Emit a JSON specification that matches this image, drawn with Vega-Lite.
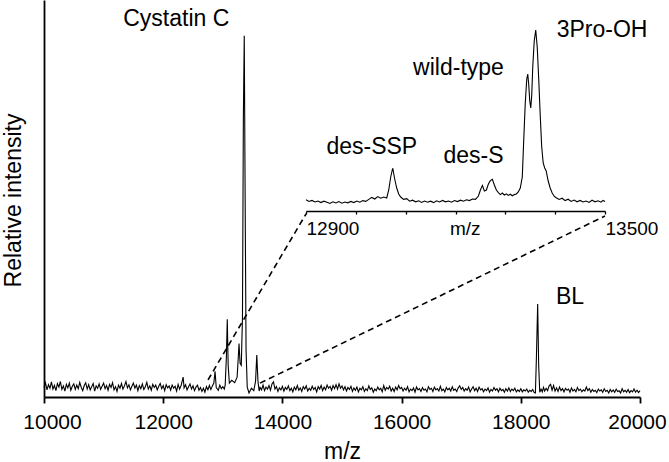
{
  "$schema": "https://vega.github.io/schema/vega-lite/v6.json",
  "width": 596,
  "height": 397,
  "autosize": "none",
  "padding": {"left": 44, "top": 0, "right": 29, "bottom": 65},
  "config": {"view": {"stroke": null}, "font": "Liberation Sans", "text": {"font": "Liberation Sans"}},
  "datasets": {
    "main": [
      {"mz":10000,"intensity":2.4},{"mz":10025,"intensity":3.6},{"mz":10050,"intensity":1.8},{"mz":10075,"intensity":3.1},{"mz":10100,"intensity":2.2},{"mz":10125,"intensity":3.8},{"mz":10150,"intensity":2.0},{"mz":10175,"intensity":2.9},{"mz":10200,"intensity":1.6},{"mz":10225,"intensity":3.4},{"mz":10250,"intensity":2.5},{"mz":10275,"intensity":3.9},{"mz":10300,"intensity":1.9},{"mz":10325,"intensity":2.8},{"mz":10350,"intensity":1.5},{"mz":10375,"intensity":3.2},{"mz":10400,"intensity":2.3},{"mz":10425,"intensity":3.5},{"mz":10450,"intensity":1.7},{"mz":10475,"intensity":2.7},
      {"mz":10500,"intensity":3.3},{"mz":10525,"intensity":1.9},{"mz":10550,"intensity":3.0},{"mz":10575,"intensity":2.1},{"mz":10600,"intensity":3.7},{"mz":10625,"intensity":2.4},{"mz":10650,"intensity":1.6},{"mz":10675,"intensity":2.9},{"mz":10700,"intensity":3.6},{"mz":10725,"intensity":2.0},{"mz":10750,"intensity":3.1},{"mz":10775,"intensity":1.8},{"mz":10800,"intensity":2.6},{"mz":10825,"intensity":3.4},{"mz":10850,"intensity":1.5},{"mz":10875,"intensity":2.8},{"mz":10900,"intensity":2.2},{"mz":10925,"intensity":3.3},{"mz":10950,"intensity":1.9},{"mz":10975,"intensity":2.7},
      {"mz":11000,"intensity":3.5},{"mz":11025,"intensity":2.1},{"mz":11050,"intensity":2.9},{"mz":11075,"intensity":1.7},{"mz":11100,"intensity":3.2},{"mz":11125,"intensity":2.4},{"mz":11150,"intensity":3.6},{"mz":11175,"intensity":1.8},{"mz":11200,"intensity":2.6},{"mz":11225,"intensity":1.4},{"mz":11250,"intensity":3.0},{"mz":11275,"intensity":2.2},{"mz":11300,"intensity":3.4},{"mz":11325,"intensity":2.0},{"mz":11350,"intensity":2.8},{"mz":11375,"intensity":3.9},{"mz":11400,"intensity":2.3},{"mz":11425,"intensity":3.1},{"mz":11450,"intensity":1.8},{"mz":11475,"intensity":2.7},
      {"mz":11500,"intensity":3.5},{"mz":11525,"intensity":2.2},{"mz":11550,"intensity":3.0},{"mz":11575,"intensity":1.6},{"mz":11600,"intensity":2.9},{"mz":11625,"intensity":2.1},{"mz":11650,"intensity":3.3},{"mz":11675,"intensity":1.9},{"mz":11700,"intensity":2.6},{"mz":11725,"intensity":3.7},{"mz":11750,"intensity":2.0},{"mz":11775,"intensity":2.8},{"mz":11800,"intensity":1.7},{"mz":11825,"intensity":3.2},{"mz":11850,"intensity":2.4},{"mz":11875,"intensity":3.0},{"mz":11900,"intensity":1.8},{"mz":11925,"intensity":2.7},{"mz":11950,"intensity":3.4},{"mz":11975,"intensity":2.1},
      {"mz":12000,"intensity":2.9},{"mz":12025,"intensity":1.6},{"mz":12050,"intensity":3.1},{"mz":12075,"intensity":2.3},{"mz":12100,"intensity":2.8},{"mz":12125,"intensity":1.7},{"mz":12150,"intensity":3.0},{"mz":12175,"intensity":2.2},{"mz":12200,"intensity":2.7},{"mz":12225,"intensity":1.5},{"mz":12250,"intensity":3.2},{"mz":12275,"intensity":2.0},{"mz":12300,"intensity":2.9},{"mz":12325,"intensity":4.4},{"mz":12335,"intensity":5.0},{"mz":12350,"intensity":2.3},{"mz":12375,"intensity":3.1},{"mz":12400,"intensity":1.8},{"mz":12425,"intensity":2.6},{"mz":12450,"intensity":3.3},
      {"mz":12475,"intensity":2.0},{"mz":12500,"intensity":2.8},{"mz":12525,"intensity":1.6},{"mz":12550,"intensity":2.5},{"mz":12575,"intensity":3.0},{"mz":12600,"intensity":1.7},{"mz":12625,"intensity":2.4},{"mz":12650,"intensity":1.4},{"mz":12675,"intensity":2.2},{"mz":12700,"intensity":1.2},{"mz":12725,"intensity":2.6},{"mz":12750,"intensity":1.8},{"mz":12775,"intensity":2.9},{"mz":12800,"intensity":1.9},{"mz":12825,"intensity":2.8},{"mz":12850,"intensity":3.5},{"mz":12870,"intensity":6.5},{"mz":12890,"intensity":2.4},{"mz":12925,"intensity":1.7},{"mz":12950,"intensity":3.0},
      {"mz":12975,"intensity":2.1},{"mz":13000,"intensity":2.6},{"mz":13025,"intensity":2.0},{"mz":13040,"intensity":3.0},{"mz":13060,"intensity":10},{"mz":13075,"intensity":19.6},{"mz":13090,"intensity":8},{"mz":13110,"intensity":3.5},{"mz":13150,"intensity":4.2},{"mz":13200,"intensity":3.6},{"mz":13240,"intensity":5.0},{"mz":13260,"intensity":10},{"mz":13272,"intensity":13.5},{"mz":13290,"intensity":8.5},{"mz":13310,"intensity":8.0},{"mz":13330,"intensity":20},{"mz":13345,"intensity":70},{"mz":13360,"intensity":91},{"mz":13375,"intensity":50},{"mz":13390,"intensity":12},
      {"mz":13410,"intensity":2.5},{"mz":13440,"intensity":1.0},{"mz":13480,"intensity":2.2},{"mz":13520,"intensity":1.6},{"mz":13550,"intensity":4},{"mz":13570,"intensity":10.6},{"mz":13590,"intensity":4},{"mz":13610,"intensity":1.5},{"mz":13625,"intensity":2.4},{"mz":13650,"intensity":1.8},{"mz":13675,"intensity":3.0},{"mz":13700,"intensity":1.6},{"mz":13725,"intensity":2.5},{"mz":13750,"intensity":2.0},{"mz":13775,"intensity":2.9},{"mz":13800,"intensity":1.7},{"mz":13825,"intensity":3.3},{"mz":13850,"intensity":3.8},{"mz":13875,"intensity":2.0},{"mz":13900,"intensity":2.6},
      {"mz":13925,"intensity":1.4},{"mz":13950,"intensity":2.3},{"mz":13975,"intensity":1.8},{"mz":14000,"intensity":2.7},{"mz":14025,"intensity":1.5},{"mz":14050,"intensity":2.4},{"mz":14075,"intensity":1.9},{"mz":14100,"intensity":2.8},{"mz":14125,"intensity":1.6},{"mz":14150,"intensity":2.2},{"mz":14175,"intensity":1.3},{"mz":14200,"intensity":2.5},{"mz":14225,"intensity":1.8},{"mz":14250,"intensity":2.9},{"mz":14275,"intensity":1.7},{"mz":14300,"intensity":2.3},{"mz":14325,"intensity":1.4},{"mz":14350,"intensity":2.6},{"mz":14375,"intensity":2.0},{"mz":14400,"intensity":2.8},
      {"mz":14425,"intensity":1.5},{"mz":14450,"intensity":2.2},{"mz":14475,"intensity":1.7},{"mz":14500,"intensity":2.7},{"mz":14525,"intensity":1.9},{"mz":14550,"intensity":2.4},{"mz":14575,"intensity":1.3},{"mz":14600,"intensity":2.6},{"mz":14625,"intensity":2.0},{"mz":14650,"intensity":2.9},{"mz":14675,"intensity":1.6},{"mz":14700,"intensity":2.5},{"mz":14725,"intensity":1.8},{"mz":14750,"intensity":3.0},{"mz":14775,"intensity":2.2},{"mz":14800,"intensity":2.7},{"mz":14825,"intensity":1.7},{"mz":14850,"intensity":2.9},{"mz":14875,"intensity":2.1},{"mz":14900,"intensity":3.1},
      {"mz":14925,"intensity":2.0},{"mz":14950,"intensity":3.3},{"mz":14975,"intensity":2.2},{"mz":15000,"intensity":2.8},{"mz":15025,"intensity":1.8},{"mz":15050,"intensity":2.6},{"mz":15075,"intensity":1.5},{"mz":15100,"intensity":2.4},{"mz":15125,"intensity":1.9},{"mz":15150,"intensity":2.7},{"mz":15175,"intensity":1.4},{"mz":15200,"intensity":2.3},{"mz":15225,"intensity":1.7},{"mz":15250,"intensity":2.5},{"mz":15275,"intensity":1.3},{"mz":15300,"intensity":2.2},{"mz":15325,"intensity":1.8},{"mz":15350,"intensity":2.6},{"mz":15375,"intensity":1.4},{"mz":15400,"intensity":2.1},
      {"mz":15425,"intensity":1.6},{"mz":15450,"intensity":2.8},{"mz":15475,"intensity":1.9},{"mz":15500,"intensity":2.3},{"mz":15525,"intensity":1.2},{"mz":15550,"intensity":2.0},{"mz":15575,"intensity":1.6},{"mz":15600,"intensity":2.5},{"mz":15625,"intensity":1.8},{"mz":15650,"intensity":2.2},{"mz":15675,"intensity":1.3},{"mz":15700,"intensity":2.9},{"mz":15725,"intensity":1.7},{"mz":15750,"intensity":2.4},{"mz":15775,"intensity":2.0},{"mz":15800,"intensity":2.7},{"mz":15825,"intensity":1.5},{"mz":15850,"intensity":2.2},{"mz":15875,"intensity":1.4},{"mz":15900,"intensity":2.5},
      {"mz":15925,"intensity":1.8},{"mz":15950,"intensity":2.9},{"mz":15975,"intensity":2.1},{"mz":16000,"intensity":2.4},{"mz":16025,"intensity":1.5},{"mz":16050,"intensity":2.2},{"mz":16075,"intensity":1.7},{"mz":16100,"intensity":2.6},{"mz":16125,"intensity":1.3},{"mz":16150,"intensity":2.0},{"mz":16175,"intensity":1.6},{"mz":16200,"intensity":2.3},{"mz":16225,"intensity":1.2},{"mz":16250,"intensity":2.5},{"mz":16275,"intensity":1.8},{"mz":16300,"intensity":2.1},{"mz":16325,"intensity":1.4},{"mz":16350,"intensity":2.4},{"mz":16375,"intensity":1.7},{"mz":16400,"intensity":2.0},
      {"mz":16425,"intensity":1.3},{"mz":16450,"intensity":2.6},{"mz":16475,"intensity":1.9},{"mz":16500,"intensity":2.2},{"mz":16525,"intensity":1.4},{"mz":16550,"intensity":2.5},{"mz":16575,"intensity":1.8},{"mz":16600,"intensity":2.1},{"mz":16625,"intensity":1.5},{"mz":16650,"intensity":2.7},{"mz":16675,"intensity":1.6},{"mz":16700,"intensity":2.0},{"mz":16725,"intensity":1.3},{"mz":16750,"intensity":2.4},{"mz":16775,"intensity":1.8},{"mz":16800,"intensity":2.2},{"mz":16825,"intensity":1.5},{"mz":16850,"intensity":2.6},{"mz":16875,"intensity":1.7},{"mz":16900,"intensity":2.0},
      {"mz":16925,"intensity":1.4},{"mz":16950,"intensity":2.3},{"mz":16975,"intensity":2.8},{"mz":17000,"intensity":1.9},{"mz":17025,"intensity":2.4},{"mz":17050,"intensity":1.5},{"mz":17075,"intensity":2.1},{"mz":17100,"intensity":1.7},{"mz":17125,"intensity":2.5},{"mz":17150,"intensity":1.3},{"mz":17175,"intensity":2.0},{"mz":17200,"intensity":2.6},{"mz":17225,"intensity":1.6},{"mz":17250,"intensity":2.2},{"mz":17275,"intensity":1.4},{"mz":17300,"intensity":2.5},{"mz":17325,"intensity":1.8},{"mz":17350,"intensity":2.1},{"mz":17375,"intensity":1.3},{"mz":17400,"intensity":2.0},
      {"mz":17425,"intensity":1.6},{"mz":17450,"intensity":2.3},{"mz":17475,"intensity":1.2},{"mz":17500,"intensity":1.9},{"mz":17525,"intensity":1.5},{"mz":17550,"intensity":2.4},{"mz":17575,"intensity":1.7},{"mz":17600,"intensity":2.1},{"mz":17625,"intensity":1.3},{"mz":17650,"intensity":2.2},{"mz":17675,"intensity":1.6},{"mz":17700,"intensity":1.9},{"mz":17725,"intensity":1.2},{"mz":17750,"intensity":2.1},{"mz":17775,"intensity":1.5},{"mz":17800,"intensity":2.3},{"mz":17825,"intensity":1.4},{"mz":17850,"intensity":2.0},{"mz":17875,"intensity":1.6},{"mz":17900,"intensity":2.2},
      {"mz":17925,"intensity":1.3},{"mz":17950,"intensity":1.8},{"mz":17975,"intensity":1.4},{"mz":18000,"intensity":2.1},{"mz":18025,"intensity":1.3},{"mz":18050,"intensity":1.8},{"mz":18075,"intensity":1.5},{"mz":18100,"intensity":2.0},{"mz":18125,"intensity":1.2},{"mz":18150,"intensity":1.7},{"mz":18175,"intensity":1.4},{"mz":18200,"intensity":1.9},{"mz":18225,"intensity":1.1},{"mz":18245,"intensity":1.0},{"mz":18262,"intensity":10},{"mz":18283,"intensity":23.4},{"mz":18300,"intensity":8},{"mz":18318,"intensity":1.2},{"mz":18340,"intensity":2.0},{"mz":18360,"intensity":1.3},
      {"mz":18380,"intensity":2.4},{"mz":18400,"intensity":1.5},{"mz":18425,"intensity":2.2},{"mz":18450,"intensity":1.6},{"mz":18475,"intensity":2.8},{"mz":18500,"intensity":3.2},{"mz":18525,"intensity":1.7},{"mz":18550,"intensity":2.9},{"mz":18575,"intensity":1.5},{"mz":18600,"intensity":2.3},{"mz":18625,"intensity":1.4},{"mz":18650,"intensity":2.5},{"mz":18675,"intensity":1.6},{"mz":18700,"intensity":2.1},{"mz":18725,"intensity":1.3},{"mz":18750,"intensity":2.2},{"mz":18775,"intensity":1.7},{"mz":18800,"intensity":2.0},{"mz":18825,"intensity":1.2},{"mz":18850,"intensity":2.3},
      {"mz":18875,"intensity":1.5},{"mz":18900,"intensity":1.9},{"mz":18925,"intensity":1.3},{"mz":18950,"intensity":2.4},{"mz":18975,"intensity":1.6},{"mz":19000,"intensity":2.0},{"mz":19025,"intensity":1.3},{"mz":19050,"intensity":1.8},{"mz":19075,"intensity":1.5},{"mz":19100,"intensity":2.5},{"mz":19125,"intensity":1.6},{"mz":19150,"intensity":2.1},{"mz":19175,"intensity":1.2},{"mz":19200,"intensity":1.9},{"mz":19225,"intensity":1.4},{"mz":19250,"intensity":1.7},{"mz":19275,"intensity":1.1},{"mz":19300,"intensity":2.0},{"mz":19325,"intensity":1.5},{"mz":19350,"intensity":1.8},
      {"mz":19375,"intensity":1.2},{"mz":19400,"intensity":2.1},{"mz":19425,"intensity":1.4},{"mz":19450,"intensity":1.7},{"mz":19475,"intensity":1.0},{"mz":19500,"intensity":1.9},{"mz":19525,"intensity":1.3},{"mz":19550,"intensity":1.8},{"mz":19575,"intensity":1.2},{"mz":19600,"intensity":2.0},{"mz":19625,"intensity":1.4},{"mz":19650,"intensity":1.6},{"mz":19675,"intensity":1.0},{"mz":19700,"intensity":2.1},{"mz":19725,"intensity":1.3},{"mz":19750,"intensity":1.7},{"mz":19775,"intensity":1.2},{"mz":19800,"intensity":1.9},{"mz":19825,"intensity":1.1},{"mz":19850,"intensity":1.6},
      {"mz":19875,"intensity":1.3},{"mz":19900,"intensity":2.0},{"mz":19925,"intensity":1.2},{"mz":19950,"intensity":1.7},{"mz":19975,"intensity":1.1},{"mz":20000,"intensity":1.6}
    ],
    "inset": [
      {"mz":12900,"intensity":5.6},{"mz":12906,"intensity":4.8},{"mz":12912,"intensity":5.3},{"mz":12918,"intensity":4.5},{"mz":12924,"intensity":5.0},{"mz":12930,"intensity":4.2},{"mz":12936,"intensity":4.9},{"mz":12942,"intensity":4.4},{"mz":12948,"intensity":3.8},{"mz":12954,"intensity":4.6},{"mz":12960,"intensity":4.0},{"mz":12966,"intensity":4.7},{"mz":12972,"intensity":3.9},{"mz":12978,"intensity":4.5},{"mz":12984,"intensity":4.1},{"mz":12990,"intensity":4.8},{"mz":12996,"intensity":4.2},
      {"mz":13002,"intensity":5.0},{"mz":13008,"intensity":4.4},{"mz":13014,"intensity":5.2},{"mz":13020,"intensity":4.8},{"mz":13026,"intensity":5.8},{"mz":13032,"intensity":6.8},{"mz":13038,"intensity":6.0},{"mz":13044,"intensity":7.2},{"mz":13050,"intensity":6.4},{"mz":13056,"intensity":7.0},{"mz":13062,"intensity":6.5},{"mz":13066,"intensity":10.5},{"mz":13070,"intensity":17.0},{"mz":13074,"intensity":21.5},{"mz":13078,"intensity":16.0},{"mz":13082,"intensity":11.5},{"mz":13086,"intensity":8.5},{"mz":13090,"intensity":7.0},{"mz":13096,"intensity":5.8},
      {"mz":13102,"intensity":6.2},{"mz":13108,"intensity":4.9},{"mz":13114,"intensity":5.4},{"mz":13120,"intensity":4.6},{"mz":13126,"intensity":5.1},{"mz":13132,"intensity":4.3},{"mz":13138,"intensity":5.0},{"mz":13144,"intensity":4.4},{"mz":13150,"intensity":4.9},{"mz":13156,"intensity":4.2},{"mz":13162,"intensity":5.1},{"mz":13168,"intensity":4.5},{"mz":13174,"intensity":5.3},{"mz":13180,"intensity":4.6},{"mz":13186,"intensity":5.0},{"mz":13192,"intensity":4.4},{"mz":13198,"intensity":5.2},
      {"mz":13204,"intensity":4.7},{"mz":13210,"intensity":5.4},{"mz":13216,"intensity":4.9},{"mz":13222,"intensity":5.6},{"mz":13228,"intensity":5.2},{"mz":13234,"intensity":6.0},{"mz":13240,"intensity":5.8},{"mz":13246,"intensity":7.5},{"mz":13250,"intensity":10.5},{"mz":13254,"intensity":12.8},{"mz":13258,"intensity":10.0},{"mz":13262,"intensity":10.5},{"mz":13266,"intensity":13.5},{"mz":13270,"intensity":15.2},{"mz":13274,"intensity":15.8},{"mz":13278,"intensity":13.0},{"mz":13282,"intensity":10.5},{"mz":13286,"intensity":9.2},{"mz":13290,"intensity":8.2},{"mz":13294,"intensity":9.0},{"mz":13298,"intensity":8.0},
      {"mz":13302,"intensity":8.6},{"mz":13306,"intensity":7.8},{"mz":13310,"intensity":8.4},{"mz":13314,"intensity":7.6},{"mz":13318,"intensity":8.2},{"mz":13322,"intensity":8.5},{"mz":13326,"intensity":9.5},{"mz":13330,"intensity":11.5},{"mz":13334,"intensity":17},{"mz":13337,"intensity":36},{"mz":13340,"intensity":54},{"mz":13343,"intensity":66},{"mz":13345,"intensity":68.5},{"mz":13347,"intensity":63},{"mz":13349,"intensity":55},{"mz":13351,"intensity":51.5},{"mz":13353,"intensity":58},{"mz":13355,"intensity":72},{"mz":13358,"intensity":85},{"mz":13361,"intensity":90.5},{"mz":13364,"intensity":82},{"mz":13367,"intensity":66},{"mz":13370,"intensity":48},{"mz":13373,"intensity":32},{"mz":13376,"intensity":24},{"mz":13379,"intensity":21.5},{"mz":13382,"intensity":20},{"mz":13386,"intensity":15},{"mz":13390,"intensity":11.5},{"mz":13394,"intensity":9.0},{"mz":13398,"intensity":7.4},
      {"mz":13402,"intensity":6.6},{"mz":13408,"intensity":5.8},{"mz":13414,"intensity":6.4},{"mz":13420,"intensity":5.2},{"mz":13426,"intensity":5.9},{"mz":13432,"intensity":4.8},{"mz":13438,"intensity":5.5},{"mz":13444,"intensity":4.6},{"mz":13450,"intensity":5.3},{"mz":13456,"intensity":4.5},{"mz":13462,"intensity":5.0},{"mz":13468,"intensity":4.3},{"mz":13474,"intensity":5.4},{"mz":13480,"intensity":4.6},{"mz":13486,"intensity":5.1},{"mz":13492,"intensity":4.4},{"mz":13496,"intensity":5.3},{"mz":13500,"intensity":4.8}
    ],
    "guides": [
      {"mz":12752,"intensity":4.3,"mz2":14396,"intensity2":46.1},
      {"mz":13624,"intensity":3.5,"mz2":19413,"intensity2":45.6}
    ],
    "mainLabels": [
      {"mz":12220,"intensity":93.5,"label":"Cystatin C"},
      {"mz":18826,"intensity":23.3,"label":"BL"}
    ],
    "insetLabels": [
      {"mz":13494,"intensity":87.2,"label":"3Pro-OH"},
      {"mz":13206,"intensity":68,"label":"wild-type"},
      {"mz":13032,"intensity":28.5,"label":"des-SSP"},
      {"mz":13236,"intensity":24.2,"label":"des-S"}
    ]
  },
  "layer": [
    {
      "layer": [
        {
          "data": {"name": "main"},
          "mark": {"type": "line", "color": "black", "strokeWidth": 1.1},
          "encoding": {
            "x": {
              "field": "mz", "type": "quantitative", "title": "m/z",
              "scale": {"domain": [10000, 20000], "nice": false, "zero": false},
              "axis": {
                "values": [10000, 12000, 14000, 16000, 18000, 20000],
                "format": "d", "grid": false, "labelFlush": false, "labelOverlap": false,
                "domainColor": "black", "domainWidth": 1.8,
                "tickColor": "black", "tickWidth": 1.8, "tickSize": 6,
                "labelFontSize": 21, "labelColor": "black", "labelBaseline": "alphabetic", "labelPadding": 25,
                "labelOffset": {"condition": [{"test": "datum.value == 10000", "value": 8}, {"test": "datum.value == 20000", "value": -3}], "value": 0},
                "titleFontSize": 23, "titleFontWeight": "normal", "titleColor": "black",
                "titleBaseline": "alphabetic", "titleY": 61
              }
            },
            "y": {
              "field": "intensity", "type": "quantitative", "title": "Relative intensity",
              "scale": {"domain": [0, 100], "nice": false},
              "axis": {
                "grid": false, "ticks": false, "labels": false,
                "domainColor": "black", "domainWidth": 1.8,
                "titleFontSize": 23, "titleFontWeight": "normal", "titleColor": "black",
                "titleAngle": -90, "titleAlign": "center", "titleBaseline": "middle",
                "titleX": -31, "titleY": 200
              }
            }
          }
        },
        {
          "data": {"name": "guides"},
          "mark": {"type": "rule", "color": "black", "strokeWidth": 1.6, "strokeDash": [6, 4]},
          "encoding": {
            "x": {"field": "mz", "type": "quantitative", "title": "m/z"},
            "y": {"field": "intensity", "type": "quantitative", "title": "Relative intensity"},
            "x2": {"field": "mz2"},
            "y2": {"field": "intensity2"}
          }
        },
        {
          "data": {"name": "mainLabels"},
          "mark": {"type": "text", "fontSize": 23, "color": "black", "align": "center", "baseline": "alphabetic"},
          "encoding": {
            "x": {"field": "mz", "type": "quantitative", "title": "m/z"},
            "y": {"field": "intensity", "type": "quantitative", "title": "Relative intensity"},
            "text": {"field": "label"}
          }
        }
      ]
    },
    {
      "layer": [
        {
          "data": {"name": "inset"},
          "mark": {"type": "line", "color": "black", "strokeWidth": 1.1},
          "encoding": {
            "x": {
              "field": "mz", "type": "quantitative",
              "scale": {"domain": [12900, 13500], "range": [262, 561], "nice": false, "zero": false},
              "axis": {
                "orient": "bottom", "offset": -186, "title": null,
                "values": [12900, 13000, 13100, 13200, 13300, 13400, 13500],
                "labelExpr": "datum.value == 13200 ? 'm/z' : ((datum.value == 12900 || datum.value == 13500) ? format(datum.value, 'd') : '')",
                "grid": false, "labelFlush": false, "labelOverlap": false,
                "domainColor": "black", "domainWidth": 1.3,
                "tickColor": "black", "tickWidth": 1.3, "tickSize": 3,
                "labelFontSize": 19, "labelColor": "black", "labelAlign": "left",
                "labelOffset": {"condition": {"test": "datum.value == 13200", "value": -6}, "value": 0},
                "labelBaseline": "alphabetic", "labelPadding": 20
              }
            },
            "y": {
              "field": "intensity", "type": "quantitative",
              "scale": {"domain": [0, 100], "range": [211, 11], "nice": false},
              "axis": null
            }
          }
        },
        {
          "data": {"name": "insetLabels"},
          "mark": {"type": "text", "fontSize": 23, "color": "black", "align": "center", "baseline": "alphabetic"},
          "encoding": {
            "x": {"field": "mz", "type": "quantitative"},
            "y": {"field": "intensity", "type": "quantitative"},
            "text": {"field": "label"}
          }
        }
      ]
    }
  ],
  "resolve": {"scale": {"x": "independent", "y": "independent"}}
}
